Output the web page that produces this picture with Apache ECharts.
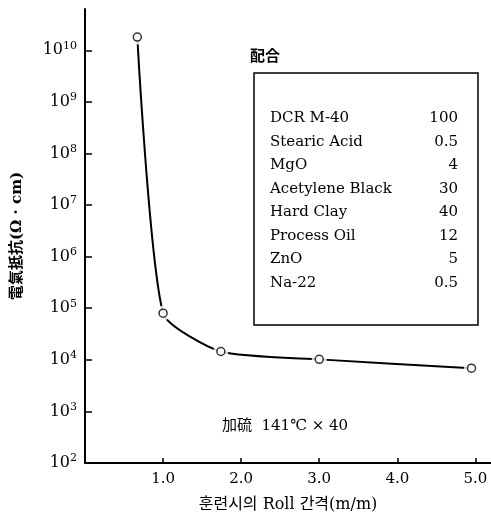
<!DOCTYPE html>
<html>
<head>
<meta charset="utf-8">
<script src="https://cdn.jsdelivr.net/npm/echarts@6/dist/echarts.min.js"></script>
<style>
  html, body { margin: 0; padding: 0; background: #fff; }
  #chart { width: 491px; height: 518px; }
</style>
</head>
<body>
<div id="chart"></div>
<script>
// Roll gap during mixing (m/m) vs. volume resistivity (Ω·cm)
const rollGap = [0.67, 1.0, 1.74, 3.0, 4.95];
const resistivity = [1.8e10, 8.0e4, 1.45e4, 1.02e4, 6.9e3];

const xTicks = [1, 2, 3, 4, 5];
const yTicks = [1e2, 1e3, 1e4, 1e5, 1e6, 1e7, 1e8, 1e9, 1e10];

// Compound recipe (parts)
const recipeNames = ['DCR M-40', 'Stearic Acid', 'MgO', 'Acetylene Black', 'Hard Clay', 'Process Oil', 'ZnO', 'Na-22'];
const recipeParts = ['100', '0.5', '4', '30', '40', '12', '5', '0.5'];

const SERIF = '"DejaVu Serif", "Noto Sans CJK KR", serif';
const INK = '#000';

const points = rollGap.map((x, i) => [x, resistivity[i]]);

// table block
const rowTop = 120, rowStep = 23.5;
const tableTexts = [];
recipeNames.forEach((name, i) => {
  tableTexts.push({
    type: 'text', left: 270, top: rowTop + i * rowStep - 9,
    style: { text: name, font: '15px ' + SERIF, fill: INK }
  });
  tableTexts.push({
    type: 'text', right: 491 - 458, top: rowTop + i * rowStep - 9,
    style: { text: recipeParts[i], font: '15px ' + SERIF, fill: INK, align: 'right' }
  });
});

const chart = echarts.init(document.getElementById('chart'), null, { renderer: 'canvas' });
chart.setOption({
  backgroundColor: '#fff',
  animation: false,
  grid: { left: 85, right: 0, top: 9, bottom: 55, containLabel: false },
  xAxis: {
    type: 'value', min: 0, max: 5.2,
    name: '훈련시의 Roll 간격(m/m)',
    nameLocation: 'middle', nameGap: 34,
    nameTextStyle: { fontFamily: SERIF, fontSize: 16, color: INK },
    axisLine: { show: true, lineStyle: { color: INK, width: 2 } },
    axisTick: { show: true, inside: true, length: 5, lineStyle: { color: INK, width: 1.5 }, customValues: xTicks },
    axisLabel: {
      customValues: xTicks, margin: 9,
      fontFamily: SERIF, fontSize: 15, color: INK,
      formatter: v => v.toFixed(1)
    },
    splitLine: { show: false }
  },
  yAxis: {
    type: 'log', logBase: 10, min: 1e2, max: Math.pow(10, 10.8),
    name: '電氣抵抗(Ω · cm)',
    nameLocation: 'middle', nameGap: 60, nameRotate: 90,
    nameTextStyle: { fontFamily: SERIF, fontSize: 15, color: INK, fontWeight: 'bold' },
    axisLine: { show: true, lineStyle: { color: INK, width: 2 } },
    axisTick: { show: true, inside: true, length: 7, lineStyle: { color: INK, width: 1.5 }, customValues: yTicks },
    axisLabel: {
      customValues: yTicks, margin: 8,
      formatter: v => '{b|10}{s|' + Math.round(Math.log10(v)) + '}',
      rich: {
        b: { fontFamily: SERIF, fontSize: 16, color: INK },
        s: { fontFamily: SERIF, fontSize: 11, color: INK, padding: [0, 0, 9, 0] }
      }
    },
    splitLine: { show: false }
  },
  series: [
    {
      type: 'line', data: points, smooth: 0.2,
      showSymbol: false, symbol: 'none',
      lineStyle: { color: INK, width: 2 }, z: 2, clip: false
    },
    {
      // white halo so the curve stops short of each marker
      type: 'scatter', data: points, symbol: 'circle', symbolSize: 15,
      itemStyle: { color: '#fff' }, z: 3, silent: true
    },
    {
      type: 'scatter', data: points, symbol: 'circle', symbolSize: 8,
      itemStyle: { color: '#fff', borderColor: INK, borderWidth: 1.5 }, z: 4
    }
  ],
  graphic: [
    {
      type: 'text', left: 250, top: 50,
      style: { text: '配合', font: 'bold 15px ' + SERIF, fill: INK }
    },
    {
      type: 'rect', shape: { x: 254, y: 73, width: 224, height: 252 },
      style: { fill: 'none', stroke: INK, lineWidth: 1.5 }
    },
    ...tableTexts,
    {
      type: 'text', left: 222, top: 419,
      style: { text: '加硫  141℃ × 40', font: '15px ' + SERIF, fill: INK }
    }
  ]
});
</script>
</body>
</html>
